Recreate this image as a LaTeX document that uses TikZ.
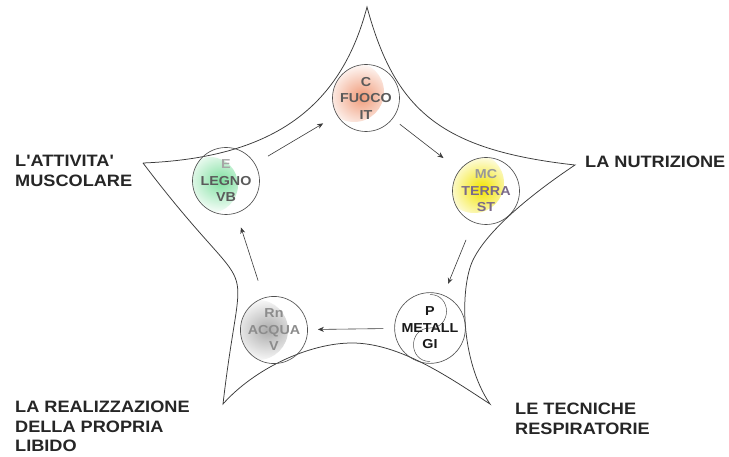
\documentclass[tikz,border=0pt]{standalone}
\usepackage{fontspec}
\setmainfont{Liberation Sans}
\newfontfamily\labfont[FakeStretch=1.1]{Liberation Sans}
\newfontfamily\circfont[FakeStretch=1.1]{Liberation Sans}
\usetikzlibrary{arrows.meta}
\definecolor{linec}{HTML}{3A3A3A}
\definecolor{circc}{HTML}{505050}
\definecolor{firec}{HTML}{F09A78}
\definecolor{woodc}{HTML}{7FE0A0}
\definecolor{earthc}{HTML}{F2E400}
\definecolor{waterc}{HTML}{ABABAB}
\definecolor{textg}{HTML}{5A5A5A}
\definecolor{earthtext}{HTML}{7A6A8A}
\tikzset{
  starline/.style={draw=linec, line width=0.75pt},
  elem/.style={circle, draw=circc, line width=0.65pt, minimum size=67pt, inner sep=0pt,
    align=center, font=\fontsize{13}{16.5}\selectfont\circfont\bfseries},
  arr/.style={draw=linec, line width=0.6pt, -{Stealth[length=6pt,width=5pt]}},
  lab/.style={anchor=north west, inner sep=0pt, align=left,
    font=\fontsize{16.5}{19.5}\selectfont\labfont\bfseries, text=black!85}
}
\begin{document}
\begin{tikzpicture}[x=1pt,y=-1pt]
\useasboundingbox (0,0) rectangle (729,457);
\fill[white] (0,0) rectangle (729,457);

% star tips
\coordinate (t0) at (367,7);
\coordinate (t1) at (575,165);
\coordinate (t2) at (490,404);
\coordinate (t3) at (223,404);
\coordinate (t4) at (143,163);
\coordinate (ra) at (473,260);
\coordinate (bm) at (352,343);

\draw[starline] (t4) .. controls (270,158) and (340,110) .. (t0)
  .. controls (395,110) and (440,150) .. (t1)
  .. controls (545,185) and (490,225) .. (ra)
  .. controls (460,287) and (460,360) .. (t2)
  .. controls (450,378) and (400,343) .. (bm)
  .. controls (310,343) and (255,368) .. (t3)
  .. controls (243,231) and (262,320) .. (t4);

% elements
\node[elem, text=textg,
  path picture={\shade[inner color=firec, outer color=white]
    ([shift={(-12pt,6pt)}]path picture bounding box.center) circle (30pt);}]
  (fuoco) at (366,98) {C\\FUOCO\\IT};
\node[elem, text=textg,
  path picture={\shade[inner color=woodc, outer color=white]
    ([shift={(-16pt,-4pt)}]path picture bounding box.center) circle (28pt);}]
  (legno) at (226,181) {{\color{black!35}E}\\LEGNO\\VB};
\node[elem, text=earthtext,
  path picture={\shade[inner color=earthc, middle color=earthc!80, outer color=white]
    ([shift={(-12pt,8pt)}]path picture bounding box.center) circle (30pt);}]
  (terra) at (486,191) {{\color{black!40}MC}\\TERRA\\ST};
\node[elem, text=black!90,
  path picture={\draw[circc, line width=0.5pt]
    ([shift={(0pt,33.5pt)}]path picture bounding box.center)
      .. controls +(22pt,0pt) and +(22pt,0pt) .. (path picture bounding box.center)
      .. controls +(-22pt,0pt) and +(-22pt,0pt) .. ([shift={(0pt,-33.5pt)}]path picture bounding box.center);}]
  (metall) at (430,328) {P\\METALL\\GI};
\node[elem, text=black!45,
  path picture={\shade[inner color=waterc, outer color=white]
    ([shift={(-16pt,0pt)}]path picture bounding box.center) circle (30pt);}]
  (acqua) at (274,330) {Rn\\ACQUA\\V};

% cycle arrows
\draw[arr, shorten <=15pt, shorten >=16pt] (legno) -- (fuoco);
\draw[arr, shorten <=9pt, shorten >=20pt] (fuoco) -- (terra);
\draw[arr, shorten <=19pt, shorten >=12pt] (terra) -- (metall);
\draw[arr, shorten <=11pt, shorten >=10pt] (metall) -- (acqua);
\draw[arr, shorten <=18pt, shorten >=15pt] (acqua) -- (legno);

% outer labels
\node[lab] (lmusc) at (15,155) {L'ATTIVITA'\\MUSCOLARE};
\node[lab] (lnutr) at (585,156) {LA NUTRIZIONE};
\node[lab] (llib) at (15,401) {LA REALIZZAZIONE\\DELLA PROPRIA\\LIBIDO};
\node[lab] (lresp) at (515,403) {LE TECNICHE\\RESPIRATORIE};
\end{tikzpicture}
\end{document}
